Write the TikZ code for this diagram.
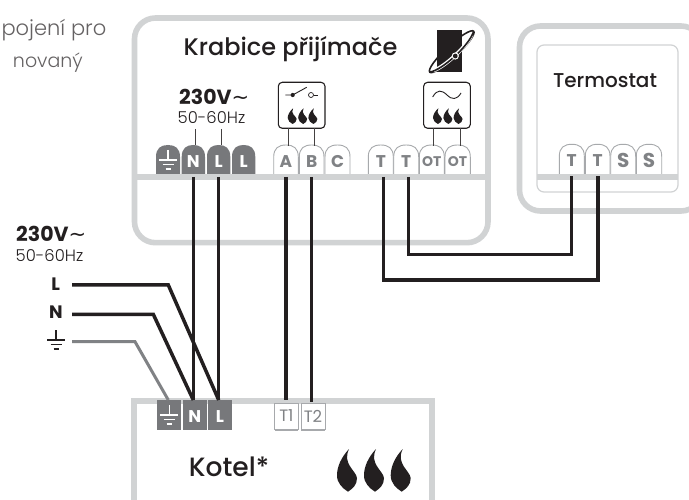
\documentclass[tikz,border=0pt]{standalone}
\usepackage{fontspec}
\setmainfont{Poppins}
\newfontfamily\fmed{Poppins Medium}
\newfontfamily\flight{Poppins Light}
\newfontfamily\fsym{DejaVu Sans}
\definecolor{boxgray}{HTML}{D1D3D4}
\definecolor{termdark}{HTML}{77787B}
\definecolor{termline}{HTML}{A7A9AC}
\definecolor{termtext}{HTML}{808285}
\definecolor{ink}{HTML}{231F20}
\definecolor{groundwire}{HTML}{808285}
\tikzset{
  housing/.style={draw=boxgray,line width=5.6pt},
  rail/.style={draw=boxgray,line width=6pt},
  wire/.style={draw=ink,line width=3.5pt,line join=miter},
  pewire/.style={draw=groundwire,line width=3pt,line join=miter},
  feed/.style={draw=ink!85,line width=1pt},
  iconbox/.style={draw=ink,line width=1.1pt,rounded corners=4pt,fill=white},
  darkterm/.style={fill=termdark},
  lightterm/.style={draw=termline,line width=.9pt,fill=white},
  darklab/.style={text=white,font=\bfseries\fontsize{17}{17}\selectfont,inner sep=0pt},
  lightlab/.style={text=termtext,font=\bfseries\fontsize{17}{17}\selectfont,inner sep=0pt},
  otlab/.style={text=termtext,font=\bfseries\fontsize{14}{14}\selectfont,inner sep=0pt},
  slab/.style={text=termtext,font=\bfseries\fontsize{20}{20}\selectfont,inner sep=0pt},
  boxlab/.style={text=termtext,font=\fontsize{16.5}{16.5}\selectfont,inner sep=0pt},
  title/.style={text=ink,font=\fmed\fontsize{24}{26}\selectfont,inner sep=0pt},
  kotlab/.style={text=ink,font=\fmed\fontsize{26.5}{28}\selectfont,inner sep=0pt},
  subtitle/.style={text=ink,font=\fmed\fontsize{20}{22}\selectfont,inner sep=0pt},
  volt/.style={text=ink,font=\bfseries\fontsize{20.5}{22}\selectfont,inner sep=0pt},
  hz/.style={text=ink,font=\flight\fontsize{16.4}{18}\selectfont,inner sep=0pt},
  intro/.style={text=ink!70,font=\flight,inner sep=0pt,anchor=base east},
  phase/.style={text=ink,font=\bfseries\fontsize{18}{18}\selectfont,inner sep=0pt}
}
% arched terminal: x1 x2 top bottom style
\newcommand{\archterm}[5]{%
  \path[#5] (#1,#4) -- (#1,#3+12) .. controls (#1,#3+3) and (#1+5,#3) .. (#1/2+#2/2,#3)
    .. controls (#2-5,#3) and (#2,#3+3) .. (#2,#3+12) -- (#2,#4);}
% flame: x y w h
\newcommand{\flame}[4]{%
  \fill[ink,shift={(#1,#2)},x=#3pt,y=-#4pt] (.6,0)
    .. controls (.2,.2) and (0,.42) .. (0,.62)
    .. controls (0,.8) and (.28,.92) .. (.55,1)
    .. controls (.8,.92) and (1,.84) .. (1,.68)
    .. controls (.95,.5) and (.25,.35) .. (.6,0) -- cycle;}
% ground symbol: x top scale colour
\newcommand{\groundsym}[4]{%
  \begin{scope}[shift={(#1,#2)},x=#3pt,y=-#3pt,draw=#4,line width=1.2pt]
    \draw (0,0) -- (0,10);
    \draw (-9,10) -- (9,10);
    \draw (-5.5,14.5) -- (5.5,14.5);
    \draw (-2.5,19) -- (2.5,19);
  \end{scope}}
\newcommand{\wave}{{\fsym\fontsize{21}{21}\selectfont\mdseries∼}}
\begin{document}
\begin{tikzpicture}[x=1pt,y=-1pt]
\useasboundingbox (0,0) rectangle (689,500);
\clip (0,0) rectangle (689,500);
\fill[white] (0,0) rectangle (689,500);

% intro text
\node[intro] (introa) at (106.5,36) {\fontsize{21}{22}\selectfont pojení pro};
\node[intro] (introb) at (83,68) {\fontsize{19}{20}\selectfont novaný};

% receiver housing
\draw[housing,rounded corners=21pt] (134.5,18) rectangle (488,242.7);
\coordinate (railal) at (134.5,177.5); \coordinate (railar) at (488,177.5);
\node[title] (rtitle) at (290.5,49) {Krabice přijímače};

% wireless logo
\draw[ink,line width=1.6pt,rotate around={43:(451.7,51.7)}] (451.7,51.7) ellipse (30 and 6);
\fill[ink] (437.3,30) rectangle (461.7,72.3);
\draw[white,line width=3.6pt,rotate around={43:(451.7,51.7)}] (425,52.7) .. controls (435,58.2) and (468,58.2) .. (478,52.7);
\draw[ink,line width=1.6pt,rotate around={43:(451.7,51.7)}] (421.7,51.7) .. controls (433,59) and (470,59) .. (481.7,51.7);
\fill[white] (455.3,56) circle (3.6);
\fill[ink] (455.3,56) circle (2.4);

% receiver mains label
\node[volt,anchor=base west] (rvolt) at (179,105) {230V\wave};
\node[hz] (rhz) at (211.5,117.5) {50-60Hz};

% receiver terminals
\archterm{156}{180}{145}{174.5}{darkterm}
\archterm{181.7}{205}{145}{174.5}{darkterm}
\archterm{207}{230.3}{145}{174.5}{darkterm}
\archterm{232}{255.3}{145}{174.5}{darkterm}
\groundsym{168}{150}{1}{white}
\node[darklab] (rN) at (193.35,162) {N};
\node[darklab] (rL) at (218.65,162) {L};
\node[darklab] (rLb) at (243.65,162) {L};
\foreach \a/\b in {273.7/298.3,299.3/324,325/350,368.3/393.3,393.7/418.7,419.3/444.3,445/470.3}{
  \archterm{\a}{\b}{145}{174.5}{lightterm}
}
\node[lightlab] (rA) at (286,162) {A};
\node[lightlab] (rB) at (311.65,162) {B};
\node[lightlab] (rC) at (337.5,162) {C};
\node[lightlab] (rT) at (380.8,162) {T};
\node[lightlab] (rTb) at (406.2,162) {T};
\node[otlab] (rOT) at (431.8,162) {OT};
\node[otlab] (rOTb) at (457.6,162) {OT};
\draw[rail] (railal) -- (railar);

% switch icon
\node[iconbox,minimum width=46.7pt,minimum height=46pt,inner sep=0pt] (swbox) at (301.65,105.3) {};
\coordinate (swa) at (288,128.3); \coordinate (swb) at (314.3,128.3);
\coordinate (swat) at (288,146); \coordinate (swbt) at (314.3,146);
\draw[feed] (swa) -- (swat);
\draw[feed] (swb) -- (swbt);
\draw[ink,line width=.9pt] (285.3,95) -- (292.7,95) -- (306.7,87.3);
\fill[ink] (292.7,95) circle (2.1);
\draw[ink,line width=.7pt] (311,95) circle (2.5);
\draw[ink,line width=.9pt] (313.7,95) -- (318.3,95);
\flame{287.7}{108.3}{9}{15.7}
\flame{298.2}{108.3}{9}{15.7}
\flame{308.4}{108.3}{9}{15.7}

% opentherm icon
\node[iconbox,minimum width=46.7pt,minimum height=46pt,inner sep=0pt] (otbox) at (447,105.3) {};
\coordinate (ota) at (433.3,128.3); \coordinate (otb) at (460,128.3);
\coordinate (otat) at (433.3,146); \coordinate (otbt) at (460,146);
\draw[feed] (ota) -- (otat);
\draw[feed] (otb) -- (otbt);
\draw[ink,line width=.9pt] (432.7,97) .. controls (437,89) and (442,90) .. (447,95)
   .. controls (452,100) and (457,100) .. (461,93);
\flame{433}{108.3}{9}{15.7}
\flame{443.4}{108.3}{9}{15.7}
\flame{453.6}{108.3}{9}{15.7}

% feeds for mains
\coordinate (fna) at (195.3,129); \coordinate (fnb) at (195.3,145.5);
\coordinate (fla) at (221.7,129); \coordinate (flb) at (221.7,145.5);
\draw[feed] (fna) -- (fnb);
\draw[feed] (fla) -- (flb);

% thermostat
\draw[housing,rounded corners=21pt] (519.5,26) rectangle (702,211);
\draw[draw=boxgray,line width=1.2pt,rounded corners=7pt] (537,45) rectangle (678,192);
\node[subtitle] (ttitle) at (605,81) {Termostat};
\archterm{559.3}{584.3}{144.3}{174}{lightterm}
\archterm{585.3}{610}{144.3}{174}{lightterm}
\archterm{610.7}{635.7}{144.3}{174}{lightterm}
\archterm{636.3}{661.7}{144.3}{174}{lightterm}
\node[lightlab] (tT) at (571.7,161) {T};
\node[lightlab] (tTb) at (597.7,161) {T};
\node[slab] (tS) at (623.2,160.5) {S};
\node[slab] (tSb) at (649,160.5) {S};
\coordinate (trl) at (537,176.7); \coordinate (trr) at (678,176.7);
\draw[rail] (trl) -- (trr);

% boiler
\coordinate (bbl) at (134,500); \coordinate (btl) at (134,401);
\coordinate (btr) at (431.7,401); \coordinate (bbr) at (431.7,500);
\draw[housing,line join=miter] (bbl) -- (btl) -- (btr) -- (bbr);
\node[kotlab] (ktitle) at (229,467) {Kotel*};
\flame{337}{449}{20}{42.7}
\flame{364}{449}{20}{42.7}
\flame{390.7}{449}{20}{42.7}

% boiler terminals
\fill[darkterm] (157.3,400) rectangle (181,430);
\fill[darkterm] (183,400) rectangle (206.7,430);
\fill[darkterm] (208.3,400) rectangle (231.7,430);
\groundsym{169.2}{405}{1}{white}
\node[darklab] (bN) at (194.8,417) {N};
\node[darklab] (bL) at (220,417) {L};
\draw[termline,line width=1pt,fill=white] (274.5,403) rectangle (298.3,429.5);
\draw[termline,line width=1pt,fill=white] (301,403) rectangle (325,429.5);
\draw[termline,line width=1.6pt] (274.5,430) -- (298.3,430) (301,430) -- (325,430);
\node[boxlab] (bTa) at (286.4,416) {T1};
\node[boxlab] (bTb) at (313,416) {T2};

% left mains
\node[volt,anchor=base west] (lvolt) at (16,242) {230V\wave};
\node[hz] (lhz) at (49.5,256) {50-60Hz};
\node[phase] (lL) at (55.7,284) {L};
\node[phase] (lN) at (56,312) {N};
\coordinate (lG) at (56,330);
\groundsym{56}{330}{1}{ink}

% wires
\coordinate (wLs) at (72,285); \coordinate (wLk) at (168.3,285); \coordinate (wLe) at (218.7,400);
\coordinate (wNs) at (72,314.3); \coordinate (wNk) at (153.3,314.3); \coordinate (wNe) at (193.3,400);
\coordinate (wGs) at (72,341.7); \coordinate (wGk) at (135,341.7); \coordinate (wGe) at (168.3,400);
\draw[pewire] (wGs) -- (wGk) -- (wGe);
\draw[wire] (wNs) -- (wNk) -- (wNe);
\draw[wire] (wLs) -- (wLk) -- (wLe);
\coordinate (rNw) at (193.3,177); \coordinate (rLw) at (218.7,177);
\coordinate (rAw) at (286,177); \coordinate (rBw) at (311.7,177);
\draw[wire] (rNw) -- (wNe);
\draw[wire] (rLw) -- (wLe);
\coordinate (bT1w) at (286,400); \coordinate (bT2w) at (311.7,402);
\draw[wire] (rAw) -- (bT1w);
\draw[wire] (rBw) -- (bT2w);
% T wires
\coordinate (rTw) at (383.7,177); \coordinate (rTbw) at (408.7,177);
\coordinate (tTw) at (571.7,176); \coordinate (tTbw) at (598,176);
\coordinate (ia) at (408.7,254.3); \coordinate (ib) at (571.7,254.3);
\coordinate (oa) at (383.7,280); \coordinate (ob) at (598,280);
\draw[wire] (rTbw) -- (ia) -- (ib) -- (tTw);
\draw[wire] (rTw) -- (oa) -- (ob) -- (tTbw);
\end{tikzpicture}
\end{document}
